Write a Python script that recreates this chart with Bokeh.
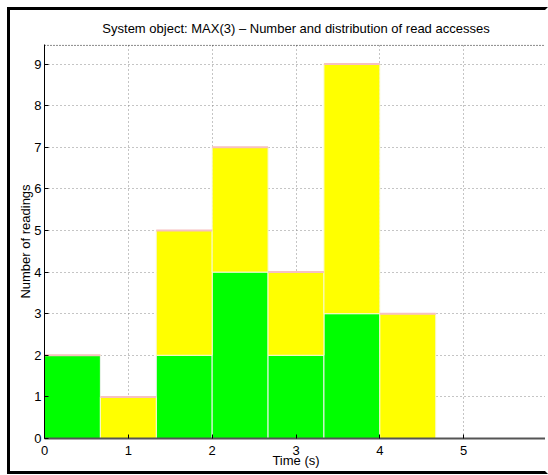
from bokeh.plotting import figure
from bokeh.models import Range1d, FixedTicker, LinearAxis, ColumnDataSource, Span
from bokeh.embed import file_html
from bokeh.resources import INLINE

# Read-access histogram for MAX(3): bins of 2/3 s
bin_width = 2 / 3
bin_centers = [(i + 0.5) * bin_width for i in range(7)]
reads_green = [2, 0, 2, 4, 2, 3, 0]
reads_yellow = [0, 1, 3, 3, 2, 6, 3]
reads_pink = [0, 0, 0, 0, 0, 0, 0]

x_ticks = [0, 1, 2, 3, 4, 5]
y_ticks = [0, 1, 2, 3, 4, 5, 6, 7, 8, 9]

totals_green = reads_green
totals_yellow = [g + y for g, y in zip(reads_green, reads_yellow)]
totals_pink = [t + p for t, p in zip(totals_yellow, reads_pink)]

src = ColumnDataSource(dict(
    x=bin_centers,
    g_top=totals_green,
    y_top=totals_yellow,
    p_top=totals_pink,
    zero=[0] * len(bin_centers),
))

FONT = "Liberation Sans"
Y_MAX = 9.45

p = figure(width=535, height=461,
           x_range=Range1d(0, 6), y_range=Range1d(0, Y_MAX + 0.02),
           output_backend="svg", toolbar_location=None,
           min_border_left=34, min_border_right=4,
           min_border_top=32, min_border_bottom=39,
           background_fill_color="white", border_fill_color="white")

p.outline_line_color = None
# black frame around the whole figure, open on the right
p.margin = (7, 0, 0, 7)
p.styles = {"box-sizing": "content-box", "overflow": "hidden",
            "border-style": "solid", "border-width": "3px",
            "border-color": "black white black black"}

# grid
p.xgrid.ticker = FixedTicker(ticks=x_ticks)
p.ygrid.ticker = FixedTicker(ticks=y_ticks)
for g in (p.xgrid, p.ygrid):
    g.grid_line_color = "#8a8a8a"
    g.grid_line_dash = "1 3"
    g.grid_line_width = 1

# stacked bars
p.vbar(x="x", width=bin_width, bottom="zero", top="g_top", source=src,
       fill_color="#00ff00", line_color="#f2f2f2", line_width=1)
p.vbar(x="x", width=bin_width, bottom="g_top", top="y_top", source=src,
       fill_color="#ffff00", line_color="#f8f8d0", line_width=1)
p.vbar(x="x", width=bin_width, bottom="y_top", top="p_top", source=src,
       fill_color="#ffb6c1", line_color="#f7c0c0", line_width=2)

# axes
p.xaxis.ticker = FixedTicker(ticks=x_ticks)
p.yaxis.ticker = FixedTicker(ticks=y_ticks)
for ax in (p.xaxis[0], p.yaxis[0]):
    ax.major_tick_in = 4
    ax.major_tick_out = 0
    ax.minor_tick_line_color = None
    ax.major_label_text_font = FONT
    ax.major_label_text_font_size = "13px"
    ax.major_label_text_color = "black"
    ax.axis_label_text_font = FONT
    ax.axis_label_text_font_size = "13px"
    ax.axis_label_text_font_style = "normal"
    ax.axis_label_text_color = "black"
    ax.major_tick_line_color = "black"

p.xaxis.axis_line_color = "#555555"
p.xaxis.axis_line_width = 2
p.xaxis.major_label_standoff = 7
p.xaxis.axis_label = "Time (s)"
p.xaxis.axis_label_standoff = -5

p.yaxis.axis_line_color = "black"
p.yaxis.axis_line_width = 1
p.yaxis.major_label_standoff = 3
p.yaxis.axis_label = "Number of readings"
p.yaxis.axis_label_standoff = -2

# empty panel above the axes (keeps the title spacing)
top_panel = LinearAxis(ticker=FixedTicker(ticks=[]), major_label_text_font_size="0px",
                       axis_line_color=None,
                       major_tick_line_color=None, minor_tick_line_color=None)
p.add_layout(top_panel, "above")

# dotted top edge of the axes box
p.add_layout(Span(location=Y_MAX, dimension="width", line_color="black",
                  line_dash="1 2", line_width=1))

p.title.text = "System object: MAX(3) \u2013 Number and distribution of read accesses"
p.title.align = "center"
p.title.text_font = FONT
p.title.text_font_size = "13px"
p.title.text_font_style = "normal"
p.title.text_color = "black"
p.title.standoff = 17

open("out.html", "w").write(file_html(p, INLINE))
